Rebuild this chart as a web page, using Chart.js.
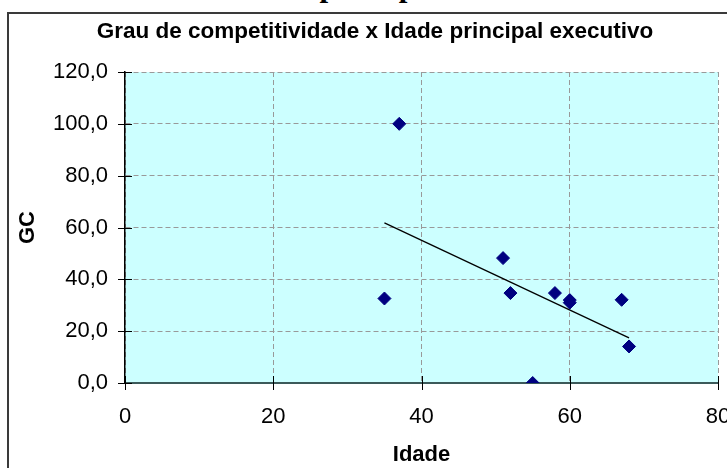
<!DOCTYPE html>
<html>
<head>
<meta charset="utf-8">
<script src="https://cdn.jsdelivr.net/npm/chart.js@4.4.1/dist/chart.umd.min.js"></script>
<style>
  html, body { margin: 0; padding: 0; background: #fff; overflow: hidden; }
  #wrap { position: relative; width: 727px; height: 468px; overflow: hidden; }
  #frame { position: absolute; left: 7px; top: 12px; width: 900px; height: 700px; border: 2px solid #3a3a3a; }
  #heading { position: absolute; left: 236px; top: -30px; font: bold 31px/1 "Liberation Serif", "Times New Roman", serif; color: #000; white-space: nowrap; }
  canvas { position: absolute; left: 0; top: 0; }
</style>
</head>
<body>
<div id="wrap">
  <div id="heading">Idade principal executivo</div>
  <div id="frame"></div>
  <canvas id="chart" width="727" height="468"></canvas>
</div>
<script>
// idade (x) e grau de competitividade (y)
const idade = [37, 35, 51, 52, 55, 58, 60, 60, 67, 68];
const gc    = [100, 32.6, 48.2, 34.7, 0, 34.7, 31.0, 32.0, 32.1, 14.1];

// linha de tendência (extremos)
const trendX = [35, 68];
const trendY = [61.8, 17.4];

const X_MIN = 0, X_MAX = 80, X_STEP = 20;
const Y_MIN = 0, Y_MAX = 120, Y_STEP = 20;

const FONT = '"Liberation Sans", Arial, sans-serif';
const PAD_LEFT = 32;

const plotBg = {
  id: 'plotBg',
  beforeDraw(chart) {
    const { ctx, chartArea: a } = chart;
    ctx.save();
    ctx.fillStyle = '#CCFFFF';
    ctx.fillRect(a.left, a.top, a.right - a.left, a.bottom - a.top);
    ctx.restore();
  },
};

// marcas de escala cruzando os eixos
const crossTicks = {
  id: 'crossTicks',
  afterDatasetsDraw(chart) {
    const { ctx, chartArea: a, scales } = chart;
    ctx.save();
    ctx.strokeStyle = '#000';
    ctx.lineWidth = 1;
    ctx.beginPath();
    scales.x.ticks.forEach((t) => {
      const px = Math.round(scales.x.getPixelForValue(t.value)) + 0.5;
      ctx.moveTo(px, a.bottom - 7);
      ctx.lineTo(px, a.bottom + 7);
    });
    scales.y.ticks.forEach((t) => {
      const py = Math.round(scales.y.getPixelForValue(t.value)) + 0.5;
      ctx.moveTo(a.left - 7, py);
      ctx.lineTo(a.left + 7, py);
    });
    ctx.stroke();
    ctx.restore();
  },
};

const points = idade.map((x, i) => ({ x, y: gc[i] }));
const trend = trendX.map((x, i) => ({ x, y: trendY[i] }));

new Chart(document.getElementById('chart'), {
  type: 'scatter',
  data: {
    datasets: [
      {
        label: 'GC',
        data: points,
        pointStyle: 'rectRot',
        pointRadius: 6.5,
        backgroundColor: '#000080',
        borderColor: '#000080',
        borderWidth: 1,
        order: 1,
      },
      {
        label: 'Tendência',
        type: 'line',
        data: trend,
        showLine: true,
        borderColor: '#000',
        borderWidth: 1.3,
        pointRadius: 0,
        fill: false,
        order: 2,
      },
    ],
  },
  options: {
    responsive: false,
    animation: false,
    layout: { padding: { left: PAD_LEFT, right: 9, top: 14, bottom: 0 } },
    plugins: {
      legend: { display: false },
      tooltip: { enabled: false },
      title: {
        display: true,
        text: 'Grau de competitividade x Idade principal executivo',
        color: '#000',
        font: { family: FONT, size: 22.5, weight: 'bold' },
        padding: { top: 4, bottom: 27 },
      },
    },
    scales: {
      x: {
        type: 'linear',
        min: X_MIN,
        max: X_MAX,
        afterFit(s) { s.height = 85; s.paddingLeft = 0; s.paddingRight = 0; },
        ticks: {
          stepSize: X_STEP,
          color: '#000',
          padding: 21,
          font: { family: FONT, size: 22 },
        },
        grid: { color: '#999', lineWidth: 1, drawTicks: false },
        border: { color: '#3c5a5a', width: 2, dash: [5, 3] },
        title: {
          display: true,
          text: 'Idade',
          color: '#000',
          font: { family: FONT, size: 22, weight: 'bold' },
          padding: { top: 0, bottom: 0 },
        },
      },
      y: {
        type: 'linear',
        min: Y_MIN,
        max: Y_MAX,
        afterFit(s) { s.width = 125 - PAD_LEFT; },
        ticks: {
          stepSize: Y_STEP,
          color: '#000',
          padding: 17,
          font: { family: FONT, size: 22 },
          callback: (v) => v.toFixed(1).replace('.', ','),
        },
        grid: { color: '#999', lineWidth: 1, drawTicks: false },
        border: { color: '#000', width: 1.5, dash: [5, 3] },
        title: {
          display: true,
          text: 'GC',
          color: '#000',
          font: { family: FONT, size: 22, weight: 'bold' },
          padding: { top: 15 - PAD_LEFT, bottom: 0 },
        },
      },
    },
  },
  plugins: [plotBg, crossTicks],
});
</script>
</body>
</html>
